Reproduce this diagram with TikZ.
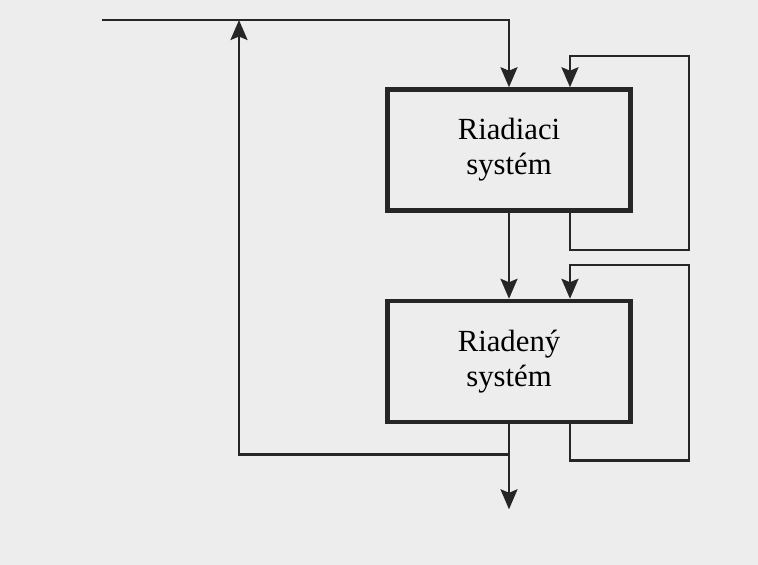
\documentclass[tikz,border=0pt]{standalone}
\usepackage{fontspec}
\setmainfont{Liberation Serif}
\usetikzlibrary{positioning}
\usetikzlibrary{arrows.meta}
\tikzset{>={Stealth[width=3.4mm,length=4mm,inset=0.7mm]}}

\begin{document}
\begin{tikzpicture}[x=0.02cm, y=-0.02cm,
    system/.style={rectangle, draw=black!85, line width=2.6pt, minimum width=4.86cm, minimum height=2.42cm, align=center, font=\fontsize{17.5}{20}\selectfont},
    link/.style={draw=black!85, line width=1.4pt} ]

    %Background
    \fill[black!7] (0,0) rectangle (758,565);
    \useasboundingbox (0,0) rectangle (758,565);

    %Nodes
    \node[system] (riadiaci) at (509,150) {Riadiaci\\systém};
    \node[system] (riadeny) [below=1.72cm of riadiaci] {Riadený\\systém};
    \coordinate (input) at (102,20);
    \coordinate (feedback_top) at (239,20);
    \coordinate (branch) at ([yshift=-0.6cm]riadeny.south);
    \coordinate (output) at ([yshift=-1.7cm]riadeny.south);

    %Lines
    \draw[link,->] (input) -| (riadiaci.north);
    \draw[link,->] ([xshift=1.22cm]riadiaci.south) -- ++(0,37) -- ++(119,0) |- ([xshift=1.22cm,yshift=0.62cm]riadiaci.north) -- ([xshift=1.22cm]riadiaci.north);
    \draw[link,->] (riadiaci.south) -- (riadeny.north);
    \draw[link,->] ([xshift=1.22cm]riadeny.south) -- ++(0,36) -- ++(119,0) |- ([xshift=1.22cm,yshift=0.68cm]riadeny.north) -- ([xshift=1.22cm]riadeny.north);
    \draw[link,->] (riadeny.south) -- (output);
    \draw[link,->] (branch) -| (feedback_top);
\end{tikzpicture}
\end{document}
